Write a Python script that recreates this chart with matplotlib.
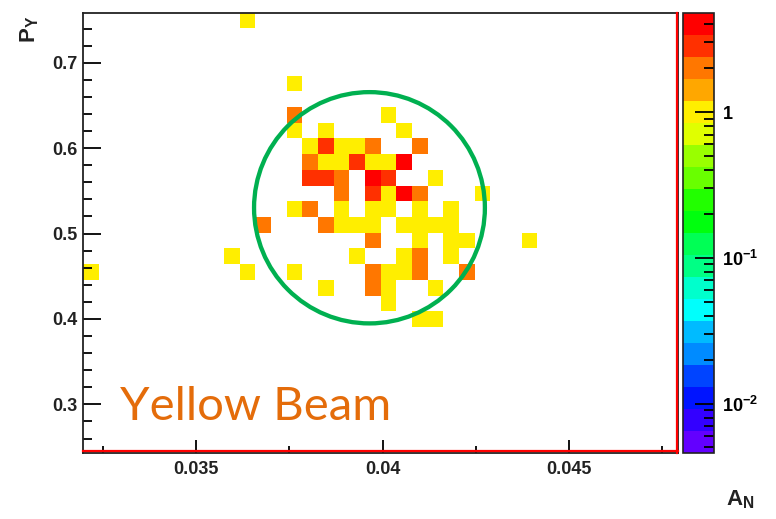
import colorsys
import numpy as np
import matplotlib
matplotlib.use("Agg")
import matplotlib.pyplot as plt
from matplotlib.colors import ListedColormap, LogNorm
from matplotlib.patches import Ellipse
from matplotlib.transforms import ScaledTranslation
from matplotlib.ticker import FixedLocator, MultipleLocator, NullFormatter

# ---- histogram binning -------------------------------------------------
AN_MIN, AN_BIN, AN_NBINS = 0.03197, 0.00042, 38
PY_MAX, PY_BIN, PY_NBINS = 0.7586, 0.0184, 28
Z_MIN, Z_MAX = 0.0046, 4.8

# ---- filled bins (bin centres) and their contents ----------------------
a_n = [
    0.03638,
    0.03764,
    0.03764, 0.04016,
    0.03764, 0.03848, 0.04058,
    0.03806, 0.03848, 0.03890, 0.03932, 0.03974, 0.04100,
    0.03806, 0.03848, 0.03890, 0.03932, 0.03974, 0.04016, 0.04058,
    0.03806, 0.03848, 0.03890, 0.03974, 0.04016, 0.04142,
    0.03890, 0.03974, 0.04016, 0.04058, 0.04100, 0.04268,
    0.03764, 0.03806, 0.03890, 0.03974, 0.04016, 0.04100, 0.04184,
    0.03680, 0.03848, 0.03890, 0.03932, 0.03974, 0.04058, 0.04100, 0.04142, 0.04184,
    0.03974, 0.04100, 0.04184, 0.04226, 0.04394,
    0.03596, 0.03932, 0.04058, 0.04100, 0.04184,
    0.03218, 0.03638, 0.03764, 0.03974, 0.04016, 0.04058, 0.04100, 0.04226,
    0.03848, 0.03974, 0.04016, 0.04142,
    0.04016,
    0.04100, 0.04142,
]
p_y = (
    [0.7494] * 1
    + [0.6758] * 1
    + [0.6390] * 2
    + [0.6206] * 3
    + [0.6022] * 6
    + [0.5838] * 7
    + [0.5654] * 6
    + [0.5470] * 6
    + [0.5286] * 7
    + [0.5102] * 9
    + [0.4918] * 5
    + [0.4734] * 5
    + [0.4550] * 8
    + [0.4366] * 4
    + [0.4182] * 1
    + [0.3998] * 2
)
counts = [
    1,
    1,
    2, 1,
    1, 1, 1,
    1, 3, 1, 1, 2, 2,
    2, 1, 1, 3, 1, 1, 4,
    3, 3, 2, 4, 3, 1,
    2, 3, 1, 4, 2, 1,
    1, 2, 1, 1, 1, 1, 1,
    2, 2, 1, 1, 1, 1, 1, 1, 1,
    2, 1, 1, 1, 1,
    1, 1, 1, 2, 1,
    1, 1, 1, 2, 1, 1, 2, 2,
    1, 2, 1, 1,
    1,
    1, 1,
]

x_ticks = [0.035, 0.040, 0.045]
x_tick_labels = ["0.035", "0.04", "0.045"]
y_ticks = [0.3, 0.4, 0.5, 0.6, 0.7]
y_tick_labels = ["0.3", "0.4", "0.5", "0.6", "0.7"]
z_ticks = [0.01, 0.1, 1.0]
z_tick_labels = [r"$\mathbf{10^{-2}}$", r"$\mathbf{10^{-1}}$", r"$\mathbf{1}$"]

# ---- fonts -------------------------------------------------------------
plt.rcParams["font.family"] = ["Liberation Sans", "DejaVu Sans"]
plt.rcParams["font.weight"] = "bold"
plt.rcParams["mathtext.fontset"] = "custom"
plt.rcParams["mathtext.bf"] = "Liberation Sans:bold"
plt.rcParams["mathtext.rm"] = "Liberation Sans:bold"
plt.rcParams["mathtext.it"] = "Liberation Sans:bold"


def pretty_palette(n_levels=20, n_colors=50):
    """Violet-to-red HLS spectrum sampled on a fixed number of contour levels."""
    cols = []
    for k in range(n_levels):
        idx = int((k + 0.99) * n_colors / n_levels)
        hue = 280.0 - (idx + 1) * 280.0 / n_colors
        cols.append(colorsys.hls_to_rgb(hue / 360.0, 0.5, 1.0))
    return ListedColormap(cols)


W, H = 776, 519
fig = plt.figure(figsize=(W / 100, H / 100), dpi=100)


def box(left, top, right, bottom):
    return [left / W, 1 - bottom / H, (right - left) / W, (bottom - top) / H]


ax = fig.add_axes(box(83.3, 12.7, 678.0, 452.7))
cax = fig.add_axes(box(683.0, 12.7, 714.0, 452.7))

x_edges = AN_MIN + AN_BIN * np.arange(AN_NBINS + 1)
y_edges = PY_MAX - PY_BIN * np.arange(PY_NBINS, -1, -1)
hist, _, _ = np.histogram2d(a_n, p_y, bins=[x_edges, y_edges], weights=counts)
hist = np.ma.masked_less_equal(hist, 0)

cmap = pretty_palette()
norm = LogNorm(vmin=Z_MIN, vmax=Z_MAX)
mesh = ax.pcolormesh(x_edges, y_edges, hist.T, cmap=cmap, norm=norm,
                     edgecolor="none", linewidth=0, snap=True, zorder=1)

ax.set_xlim(x_edges[0], x_edges[-1])
ax.set_ylim(y_edges[0], y_edges[-1])

# axis ticks pointing into the frame
ax.xaxis.set_major_locator(FixedLocator(x_ticks))
ax.set_xticklabels(x_tick_labels)
ax.xaxis.set_minor_locator(MultipleLocator(0.0025))
ax.yaxis.set_major_locator(FixedLocator(y_ticks))
ax.set_yticklabels(y_tick_labels)
ax.yaxis.set_minor_locator(MultipleLocator(0.02))
ax.tick_params(axis="x", which="major", direction="in", length=9.5, width=1.3,
               pad=6, labelsize=13, top=False)
ax.tick_params(axis="x", which="minor", direction="in", length=4.7, width=1.3, top=False)
ax.tick_params(axis="y", which="major", direction="in", length=12.8, width=1.3,
               pad=4, labelsize=13, right=False)
ax.tick_params(axis="y", which="minor", direction="in", length=6.4, width=1.3, right=False)
for lab in ax.get_xticklabels() + ax.get_yticklabels():
    lab.set_fontweight("bold")
    lab.set_color("#222222")
for sp in ax.spines.values():
    sp.set_linewidth(1.3)
    sp.set_color("#222222")

# red histogram box along the lower and right edges, just inside the frame
shift_up = ax.transAxes + ScaledTranslation(0, 1.2 / 100, fig.dpi_scale_trans)
shift_left = ax.transAxes + ScaledTranslation(-1.2 / 100, 0, fig.dpi_scale_trans)
ax.plot([0, 1], [0, 0], color="red", lw=1.6, transform=shift_up, clip_on=False, zorder=5)
ax.plot([1, 1], [0, 1], color="red", lw=1.6, transform=shift_left, clip_on=False, zorder=5)

# colour scale
cb = fig.colorbar(mesh, cax=cax)
cb.outline.set_linewidth(1.2)
cb.outline.set_edgecolor("#222222")
cax.yaxis.set_major_locator(FixedLocator(z_ticks))
cax.set_yticklabels(z_tick_labels)
minor_z = [m * 10.0 ** e for e in (-3, -2, -1, 0) for m in range(2, 10)
           if Z_MIN <= m * 10.0 ** e <= Z_MAX]
cax.yaxis.set_minor_locator(FixedLocator(minor_z))
cax.yaxis.set_minor_formatter(NullFormatter())
cax.tick_params(axis="y", which="major", direction="in", length=14, width=1.3,
                pad=6, labelsize=13, right=True, left=False)
cax.tick_params(axis="y", which="minor", direction="in", length=7.5, width=1.3,
                right=True, left=False)

# axis titles
fig.text(30 / W, 1 - 16 / H, r"$\mathbf{P}_{\mathbf{Y}}$", rotation=90,
         ha="center", va="top", fontsize=16, color="#222222")
fig.text(754 / W, 1 - 511 / H, r"$\mathbf{A}_{\mathbf{N}}$",
         ha="right", va="bottom", fontsize=16, color="#222222")

# highlighted region and annotation
ring = Ellipse((0.03965, 0.5302), width=0.006195, height=0.2708, fill=False,
               edgecolor="#00B050", linewidth=3.1, zorder=4)
ax.add_patch(ring)
ax.text((120 - 83.3) / 594.7, (452.7 - 420) / 440, "Yellow Beam",
        transform=ax.transAxes, ha="left", va="baseline",
        fontsize=34, fontweight="normal", family="Lato", color="#E46C0A")

fig.savefig("out.png", dpi=100, facecolor="white")
